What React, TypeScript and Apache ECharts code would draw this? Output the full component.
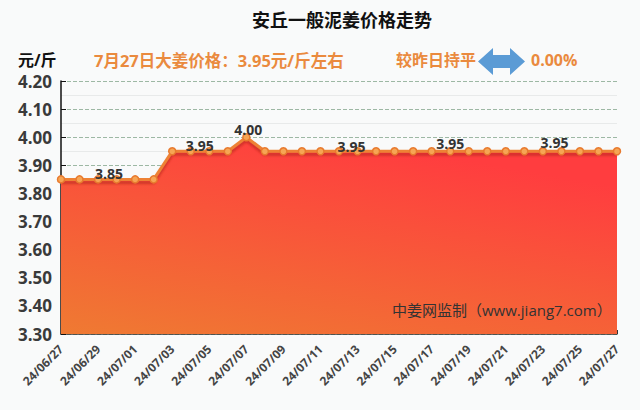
import React, { useEffect, useRef } from "react";
import * as echarts from "echarts";

const dates = [
  "24/06/27", "24/06/28", "24/06/29", "24/06/30", "24/07/01", "24/07/02", "24/07/03",
  "24/07/04", "24/07/05", "24/07/06", "24/07/07", "24/07/08", "24/07/09", "24/07/10",
  "24/07/11", "24/07/12", "24/07/13", "24/07/14", "24/07/15", "24/07/16", "24/07/17",
  "24/07/18", "24/07/19", "24/07/20", "24/07/21", "24/07/22", "24/07/23", "24/07/24",
  "24/07/25", "24/07/26", "24/07/27",
];
const prices = [
  3.85, 3.85, 3.85, 3.85, 3.85, 3.85, 3.95,
  3.95, 3.95, 3.95, 4.0, 3.95, 3.95, 3.95,
  3.95, 3.95, 3.95, 3.95, 3.95, 3.95, 3.95,
  3.95, 3.95, 3.95, 3.95, 3.95, 3.95, 3.95,
  3.95, 3.95, 3.95,
];
const labelIdx = [2, 7, 10, 16, 21, 27];
const labelOffsets = [[11, 5.5], [9, 5.5], [2, 3.5], [-6, 6.5], [0, 3.5], [-7, 2.5]];

const titleText = "安丘一般泥姜价格走势";
const unitText = "元/斤";
const priceText = "7月27日大姜价格：3.95元/斤左右";
const compareText = "较昨日持平";
const changeText = "0.00%";
const sourceText = "中姜网监制（www.jiang7.com）";

const FONT = "'Open Sans', 'Noto Sans CJK SC', sans-serif";

export default function App() {
  const ref = useRef<HTMLDivElement>(null);
  useEffect(() => {
    if (!ref.current) return;
    const chart = echarts.init(ref.current, null, { renderer: "svg" });
    const seriesData = prices.map((v, i) => {
      const k = labelIdx.indexOf(i);
      if (k < 0) return v;
      return {
        value: v,
        label: { show: true, offset: labelOffsets[k] },
      };
    });
    chart.setOption({
      animation: false,
      backgroundColor: "#f9fafa",
      textStyle: { fontFamily: FONT },
      grid: { left: 61, right: 23, top: 81, bottom: 76 },
      xAxis: {
        type: "category",
        data: dates,
        boundaryGap: false,
        axisLine: { lineStyle: { color: "#333", width: 1.5 } },
        axisTick: { inside: true, length: 4, interval: 0, lineStyle: { color: "#333" } },
        axisLabel: {
          interval: 1,
          rotate: 45,
          color: "#444",
          fontSize: 12,
          fontWeight: "bold",
          fontFamily: FONT,
          margin: 13,
        },
        splitLine: { show: false },
      },
      yAxis: {
        type: "value",
        min: 3.3,
        max: 4.2,
        interval: 0.1,
        axisLine: { show: true, lineStyle: { color: "#111", width: 1.5 } },
        axisTick: { show: true, inside: true, length: 5, lineStyle: { color: "#111" } },
        axisLabel: {
          formatter: (v: number) => v.toFixed(2),
          color: "#3a3a3a",
          fontSize: 17,
          fontWeight: "bold",
          fontFamily: FONT,
          margin: 9,
        },
        splitLine: { show: true, lineStyle: { color: "#9db8a4", type: "dashed" } },
        minorTick: { show: false, splitNumber: 2 },
        minorSplitLine: { show: true, lineStyle: { color: "#e8eaea" } },
      },
      series: [
        {
          type: "line",
          data: seriesData,
          symbol: "circle",
          symbolSize: 7,
          itemStyle: { color: "#f6a554", borderColor: "#e87a2e", borderWidth: 1.5 },
          lineStyle: {
            color: "#ee8236",
            width: 3,
            shadowColor: "rgba(170,30,20,0.55)",
            shadowOffsetY: 3,
            shadowBlur: 2,
          },
          areaStyle: {
            opacity: 1,
            color: new echarts.graphic.LinearGradient(0, 1, 0.5, 0, [
              { offset: 0, color: "#ef7a32" },
              { offset: 1, color: "#ff3d3f" },
            ]),
          },
          label: {
            show: false,
            position: "top",
            distance: 0,
            color: "#333",
            fontSize: 14,
            fontWeight: "bold",
            fontFamily: FONT,
            formatter: (p: any) => Number(p.value).toFixed(2),
          },
          z: 3,
        },
      ],
      graphic: [
        {
          type: "text",
          x: 342,
          y: 20,
          style: {
            text: titleText,
            fill: "#111",
            font: `bold 18px ${FONT}`,
            textAlign: "center",
            textVerticalAlign: "middle",
          },
        },
        {
          type: "text",
          x: 18,
          y: 60,
          style: {
            text: unitText,
            fill: "#111",
            font: `bold 16px ${FONT}`,
            textAlign: "left",
            textVerticalAlign: "middle",
          },
        },
        {
          type: "text",
          x: 94,
          y: 60,
          style: {
            text: priceText,
            fill: "#ea8a3e",
            font: `bold 16.5px ${FONT}`,
            textAlign: "left",
            textVerticalAlign: "middle",
          },
        },
        {
          type: "text",
          x: 396,
          y: 60,
          style: {
            text: compareText,
            fill: "#ea8a3e",
            font: `bold 16px ${FONT}`,
            textAlign: "left",
            textVerticalAlign: "middle",
          },
        },
        {
          type: "polygon",
          shape: {
            points: [
              [478, 61.5], [493, 48], [493, 55], [510, 55], [510, 48],
              [525, 61.5], [510, 75], [510, 68], [493, 68], [493, 75],
            ],
          },
          style: { fill: "#5b9bd5" },
        },
        {
          type: "text",
          x: 531,
          y: 60,
          style: {
            text: changeText,
            fill: "#ea8a3e",
            font: `bold 16px ${FONT}`,
            textAlign: "left",
            textVerticalAlign: "middle",
          },
        },
        {
          type: "text",
          x: 392,
          y: 310,
          z: 10,
          style: {
            text: sourceText,
            fill: "#333",
            font: `15px ${FONT}`,
            textAlign: "left",
            textVerticalAlign: "middle",
          },
        },
      ],
    });
    return () => chart.dispose();
  }, []);
  return (
    <div
      ref={ref}
      style={{ position: "fixed", left: 0, top: 0, width: 640, height: 410 }}
    />
  );
}
